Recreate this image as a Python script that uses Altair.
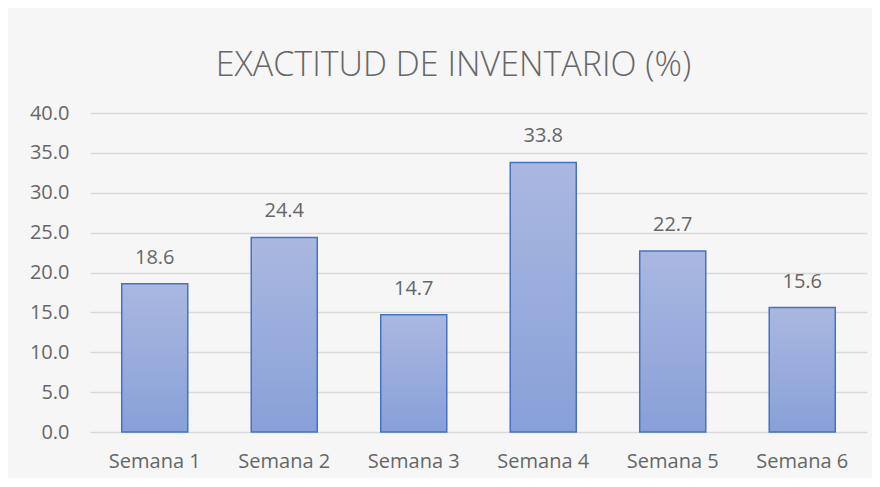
import altair as alt
import pandas as pd

categories = ["Semana 1", "Semana 2", "Semana 3", "Semana 4", "Semana 5", "Semana 6"]
values = [18.6, 24.4, 14.7, 33.8, 22.7, 15.6]
y_ticks = [0, 5, 10, 15, 20, 25, 30, 35, 40]

df = pd.DataFrame({"semana": categories, "valor": values})

FONT = "Open Sans"
GRAY = "#666666"

x_enc = alt.X("semana:N", sort=categories, title=None,
              scale=alt.Scale(paddingInner=0.49, paddingOuter=0.245),
              axis=alt.Axis(labelAngle=0, labelFontSize=20, labelColor=GRAY, labelFont=FONT,
                            ticks=False, domain=False, labelPadding=19))
y_enc = alt.Y("valor:Q", title=None,
              scale=alt.Scale(domain=[0, 40], nice=False),
              axis=alt.Axis(values=y_ticks, format=".1f", labelFontSize=20, labelColor=GRAY,
                            labelFont=FONT, ticks=False, domain=False, labelPadding=21,
                            labelOverlap=False, grid=True, gridColor="#d9d9d9", gridWidth=1.3))

base = alt.Chart(df).encode(x=x_enc, y=y_enc)

bars = base.mark_bar(
    color=alt.Gradient(gradient="linear", x1=0, x2=0, y1=0, y2=1,
                       stops=[alt.GradientStop(color="#aab8e0", offset=0),
                              alt.GradientStop(color="#88a0d8", offset=1)]),
    stroke="#4472c4", strokeWidth=1.5
)

labels = base.mark_text(dy=-26, fontSize=20, color=GRAY, font=FONT).encode(
    text=alt.Text("valor:Q", format=".1f")
)

chart = (bars + labels).properties(
    width=777, height=319,
    autosize=alt.AutoSizeParams(type="none"),
    padding={"left": 82, "top": 105, "right": 5, "bottom": 46},
    background="#f6f6f6",
    title=alt.TitleParams("EXACTITUD DE INVENTARIO (%)", fontSize=34, font=FONT,
                          fontWeight=300, color=GRAY, anchor="middle",
                          offset=20, dx=-25)
).configure_view(stroke=None)

chart.save("out.html", embed_options={"renderer": "svg", "actions": False})
